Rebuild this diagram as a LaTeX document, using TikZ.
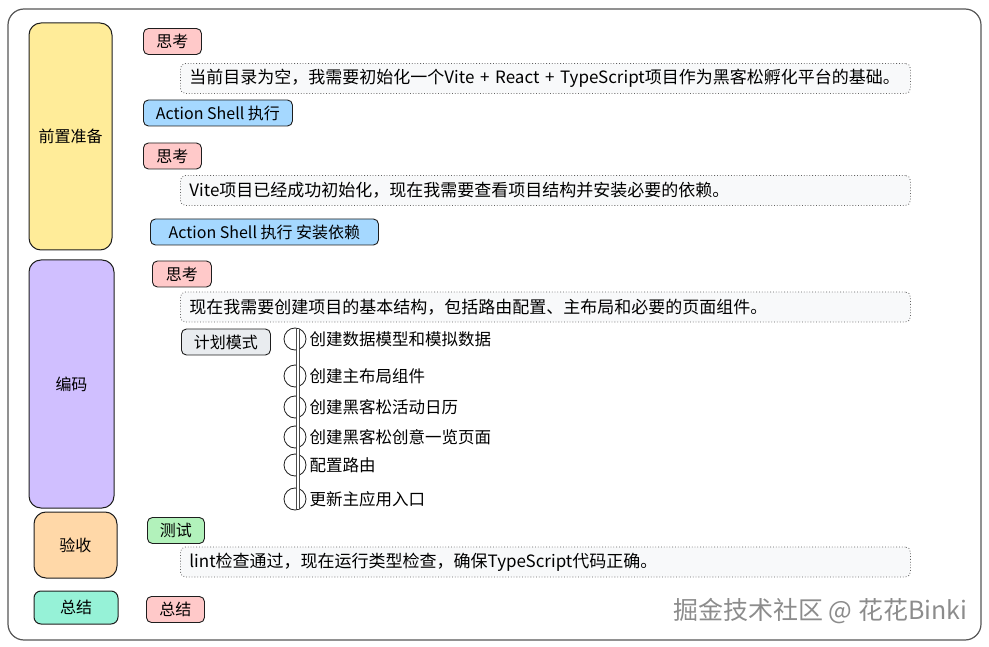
\documentclass[tikz,border=0pt]{standalone}
\usepackage{fontspec}
\setmainfont{Noto Sans CJK SC}
\usepackage{xcolor}
\definecolor{exYellow}{HTML}{FFEC99}
\definecolor{exPurple}{HTML}{D0BFFF}
\definecolor{exOrange}{HTML}{FFD8A8}
\definecolor{exTeal}{HTML}{96F2D7}
\definecolor{exPink}{HTML}{FFC9C9}
\definecolor{exBlue}{HTML}{A5D8FF}
\definecolor{exGreen}{HTML}{B2F2BB}
\definecolor{exGray}{HTML}{E9ECEF}
\definecolor{noteFill}{HTML}{F8F9FA}
\definecolor{ink}{HTML}{1E1E1E}
\usepackage{tikz}
\usetikzlibrary{positioning}
\tikzset{
    phase/.style={draw=ink,line width=1pt,rounded corners=12pt,inner sep=0pt,font=\fontsize{16}{18}\selectfont},
    tag/.style={draw=ink,line width=0.9pt,rounded corners=5pt,anchor=west,minimum height=26pt,inner xsep=0pt,font=\fontsize{16}{18}\selectfont},
    note/.style={draw=ink!70,dotted,line width=0.8pt,fill=noteFill,rounded corners=5pt,anchor=west,
                 text width=712pt,align=left,inner xsep=9pt,minimum height=30pt,font=\fontsize{17}{19}\selectfont},
    stepdot/.style={circle,draw=ink,line width=0.8pt,minimum size=22pt,inner sep=0pt},
    steptext/.style={anchor=west,inner sep=0pt,font=\fontsize{16.5}{19}\selectfont}
}

\begin{document}
\begin{tikzpicture}[x=1pt,y=-1pt]
  \useasboundingbox (0,0) rectangle (989,647);

  % outer frame
  \draw[ink!75,line width=1.2pt,rounded corners=16pt] (8,9) rectangle (981,640);

  % phases (left column)
  \node[phase,fill=exYellow,minimum width=83pt,minimum height=227pt] (prep) at (70.5,136.5) {前置准备};
  \node[phase,fill=exPurple,minimum width=85pt,minimum height=248pt] (code) at (71.5,384) {编码};
  \node[phase,fill=exOrange,minimum width=83pt,minimum height=66pt]  (check) at (75.5,545) {验收};
  \node[phase,fill=exTeal,rounded corners=7pt,minimum width=84pt,minimum height=33pt] (wrap) at (76,607.5) {总结};

  % preparation
  \node[tag,fill=exPink,minimum width=58pt] (think1) at (143,41.5) {思考};
  \node[note] (note1) at (180,78.5) {当前目录为空，我需要初始化一个Vite + React + TypeScript项目作为黑客松孵化平台的基础。};
  \node[tag,fill=exBlue,minimum width=149pt] (shell1) at (143,113) {Action Shell 执行};
  \node[tag,fill=exPink,minimum width=58pt] (think2) at (143,156) {思考};
  \node[note] (note2) at (180,190.5) {Vite项目已经成功初始化，现在我需要查看项目结构并安装必要的依赖。};
  \node[tag,fill=exBlue,minimum width=228pt] (shell2) at (150,232) {Action Shell 执行 安装依赖};

  % coding
  \node[tag,fill=exPink,minimum width=59pt] (think3) at (152,274) {思考};
  \node[note] (note3) at (180,307) {现在我需要创建项目的基本结构，包括路由配置、主布局和必要的页面组件。};
  \node[tag,fill=exGray,minimum width=89pt] (plan) at (181,342) {计划模式};

  % plan steps
  \coordinate (tlTop) at (298,329);
  \coordinate (tlBot) at (298,509);
  \foreach \y/\lbl [count=\i] in {339/创建数据模型和模拟数据,376/创建主布局组件,407/创建黑客松活动日历,
                                   437/创建黑客松创意一览页面,465/配置路由,499/更新主应用入口}{
    \node[stepdot] (dot\i) at (295,\y) {};
    \node[steptext,right=3pt of dot\i] (step\i) {\lbl};
  }
  \draw[ink!80,double,double distance=2pt,line width=0.6pt] (tlTop) -- (tlBot);

  % acceptance
  \node[tag,fill=exGreen,minimum width=57pt] (test) at (147,530.5) {测试};
  \node[note] (note4) at (180,562) {lint检查通过，现在运行类型检查，确保TypeScript代码正确。};

  % summary
  \node[tag,fill=exPink,minimum width=58pt] (sum) at (146,609.5) {总结};

  % watermark
  \node[anchor=east,text=black!45,font=\fontsize{25}{28}\selectfont] (mark) at (971,611) {掘金技术社区 @ 花花Binki};
\end{tikzpicture}
\end{document}
